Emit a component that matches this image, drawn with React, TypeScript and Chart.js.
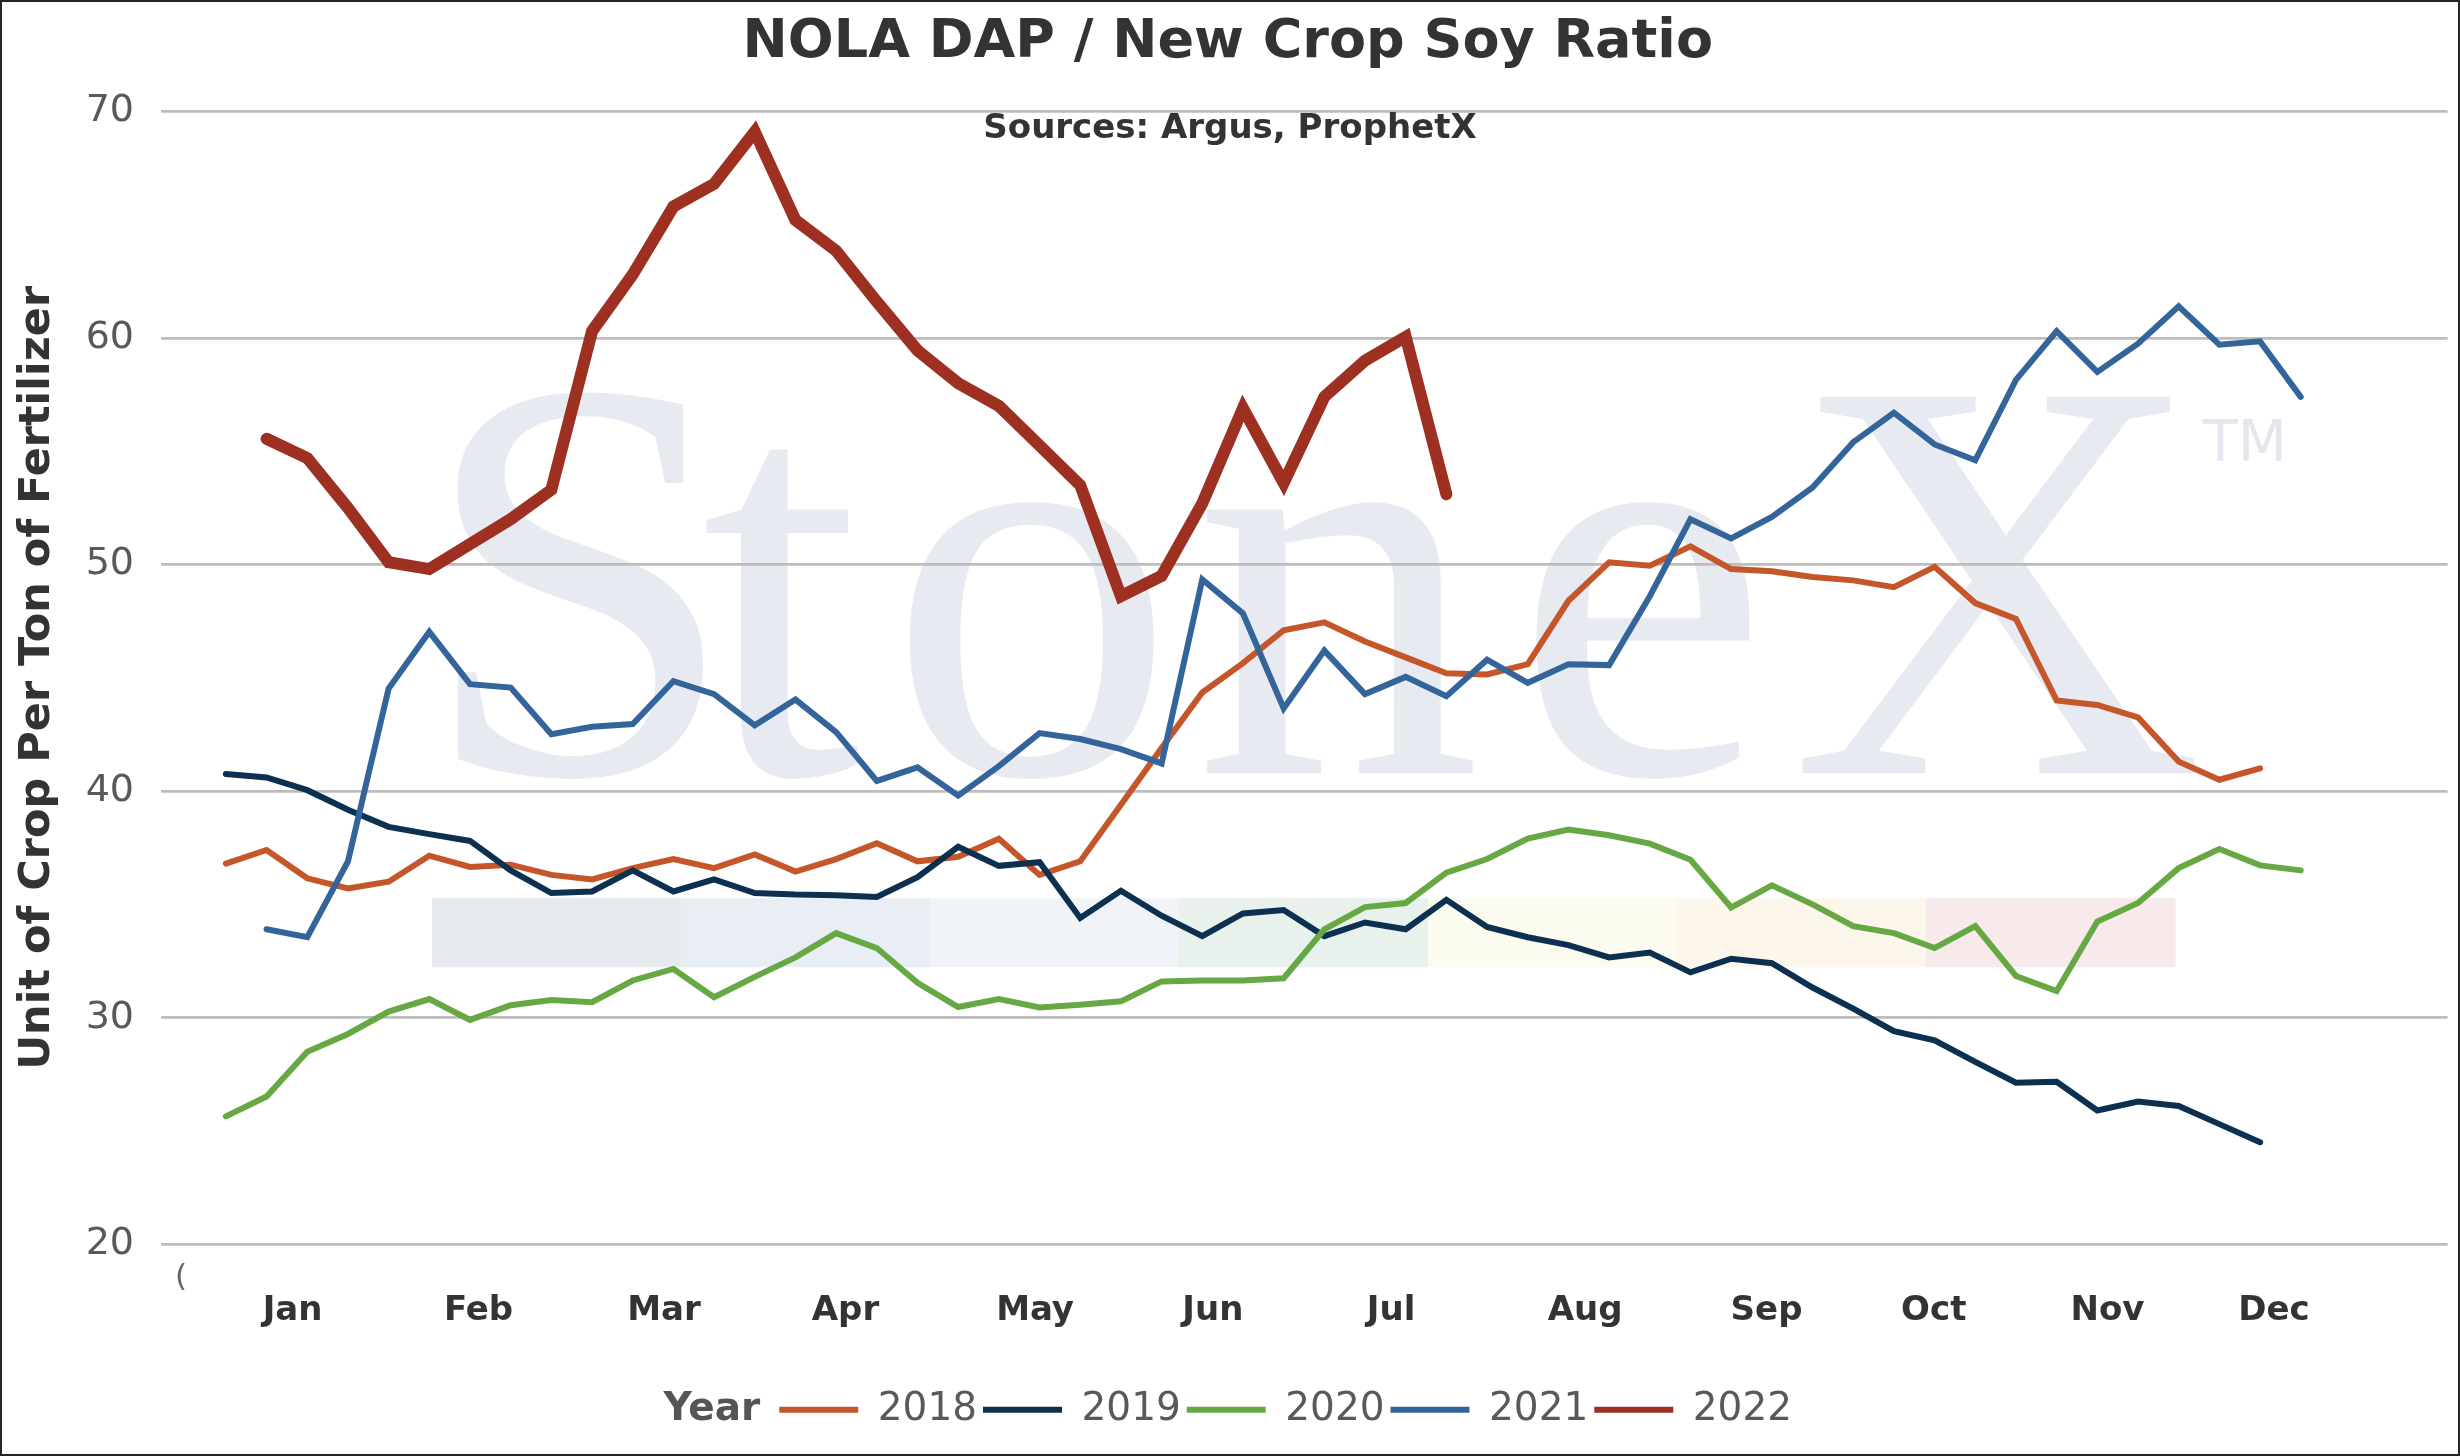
import React, { useEffect, useRef } from 'react';
import { Chart, registerables } from 'chart.js';

Chart.register(...registerables);

// ---------- data ----------
const monthLabels = ['Jan', 'Feb', 'Mar', 'Apr', 'May', 'Jun', 'Jul', 'Aug', 'Sep', 'Oct', 'Nov', 'Dec'];
const monthTickWeeks = [1.64, 6.21, 10.77, 15.23, 19.89, 24.26, 28.64, 33.41, 37.87, 41.98, 46.25, 50.34];
const yTickValues = [20, 30, 40, 50, 60, 70];

const seriesLabels = ['2018', '2019', '2020', '2021', '2022'];
const seriesColors = ['#c5562a', '#0b3050', '#66a843', '#33649a', '#9e3022'];
const seriesWidths = [6, 6, 6, 6, 12];
const seriesStartWeek = [0, 0, 0, 1, 1];

const ratio2018 = [
  36.8, 37.4, 36.15, 35.7, 36.0, 37.15, 36.65, 36.75, 36.3, 36.1,
  36.6, 37.0, 36.6, 37.2, 36.45, 37.0, 37.7, 36.9, 37.1, 37.9,
  36.3, 36.9, 39.4, 41.9, 44.35, 45.65, 47.1, 47.45, 46.6, 45.9,
  45.2, 45.15, 45.6, 48.4, 50.1, 49.95, 50.8, 49.8, 49.7, 49.45,
  49.3, 49.0, 49.9, 48.3, 47.6, 44.0, 43.8, 43.25, 41.3, 40.5, 41.0,
];
const ratio2019 = [
  40.75, 40.6, 40.04, 39.18, 38.42, 38.1, 37.8, 36.5, 35.5, 35.57,
  36.5, 35.57, 36.1, 35.5, 35.43, 35.4, 35.33, 36.2, 37.54, 36.7,
  36.86, 34.4, 35.6, 34.5, 33.6, 34.6, 34.75, 33.6, 34.2, 33.9,
  35.2, 34.0, 33.55, 33.2, 32.66, 32.87, 32.0, 32.6, 32.4, 31.33,
  30.4, 29.4, 29.0, 28.05, 27.13, 27.17, 25.9, 26.3, 26.1, 25.3, 24.5,
];
const ratio2020 = [
  25.64, 26.52, 28.5, 29.28, 30.27, 30.82, 29.9, 30.55, 30.78, 30.68,
  31.64, 32.15, 30.9, 31.8, 32.66, 33.73, 33.07, 31.54, 30.47, 30.82,
  30.45, 30.57, 30.72, 31.6, 31.64, 31.64, 31.74, 33.9, 34.88, 35.06,
  36.4, 37.0, 37.9, 38.3, 38.05, 37.68, 36.97, 34.86, 35.84, 35.0,
  34.04, 33.73, 33.07, 34.04, 31.84, 31.17, 34.24, 35.06, 36.6, 37.44, 36.72, 36.5,
];
const ratio2021 = [
  33.9, 33.55, 36.9, 44.53, 47.03, 44.72, 44.57, 42.51, 42.84, 42.96,
  44.85, 44.28, 42.9, 44.04, 42.6, 40.45, 41.05, 39.8, 41.1, 42.56,
  42.3, 41.85, 41.22, 49.34, 47.84, 43.65, 46.2, 44.28, 45.04, 44.19,
  45.8, 44.78, 45.6, 45.56, 48.6, 52.0, 51.15, 52.1, 53.4, 55.4,
  56.7, 55.3, 54.6, 58.15, 60.3, 58.5, 59.75, 61.4, 59.7, 59.85, 57.4,
];
const ratio2022 = [
  55.55, 54.7, 52.5, 50.1, 49.8, 50.9, 52.0, 53.3, 60.3, 62.8,
  65.8, 66.8, 69.1, 65.2, 63.85, 61.6, 59.45, 58.0, 57.0, 55.25,
  53.5, 48.6, 49.5, 52.7, 56.9, 53.6, 57.4, 59.0, 60.05, 53.1,
];
const seriesValues = [ratio2018, ratio2019, ratio2020, ratio2021, ratio2022];

// ---------- styling constants ----------
const FONT = '"DejaVu Sans", Verdana, sans-serif';
const LEGEND_FONT_SIZE = 39;
const LEGEND_COLOR = '#595959';
const YEAR_GAP = 19;
const watermarkBarColors = ['#e6e9ee', '#e9eef5', '#f0f4f9', '#e8f1eb', '#fbfbef', '#fdf6ea', '#f8e9ea'];
const watermarkLetters = ['S', 't', 'o', 'n', 'e', 'X'];
const watermarkLetterPos = [0.1128, 0.2361, 0.3179, 0.4517, 0.5917, 0.7123];

const toPoints = (vals: number[], start: number) => vals.map((v, i) => ({ x: start + i, y: v }));

const watermarkPlugin = {
  id: 'stonexWatermark',
  beforeDraw(chart: any) {
    const { ctx, chartArea: a } = chart;
    if (!a) return;
    const w = a.right - a.left;
    const h = a.bottom - a.top;
    ctx.save();
    const x0 = a.left + w * 0.1185;
    const segW = w * 0.1089;
    const y0 = a.top + h * 0.6946;
    const segH = h * 0.0609;
    watermarkBarColors.forEach((c, i) => {
      ctx.fillStyle = c;
      ctx.fillRect(x0 + i * segW, y0, segW + 0.6, segH);
    });
    ctx.fillStyle = '#e7eaf0';
    ctx.font = '575px "Liberation Serif", "DejaVu Serif", serif';
    ctx.textAlign = 'left';
    ctx.textBaseline = 'alphabetic';
    const base = a.top + h * 0.5843;
    watermarkLetters.forEach((ch, i) => {
      ctx.fillText(ch, a.left + w * watermarkLetterPos[i], base);
    });
    ctx.fillStyle = '#e3e6ec';
    ctx.font = `57px ${FONT}`;
    ctx.fillText('TM', a.left + w * 0.893, a.top + h * 0.309);
    ctx.restore();
  },
};

const decorPlugin = {
  id: 'decor',
  afterLayout(chart: any) {
    if (chart.legend) chart.legend._yearShifted = false;
  },
  beforeDraw(chart: any) {
    const lg = chart.legend;
    if (lg && lg.lineWidths && !lg._yearShifted) {
      const ctx = chart.ctx;
      ctx.save();
      ctx.font = `bold ${LEGEND_FONT_SIZE}px ${FONT}`;
      const w = ctx.measureText('Year').width;
      ctx.restore();
      lg.lineWidths[0] -= w + YEAR_GAP;
      lg._yearShifted = true;
    }
  },
  afterDraw(chart: any) {
    const { ctx, chartArea: a } = chart;
    ctx.save();
    // subtitle
    ctx.fillStyle = '#333333';
    ctx.font = `bold 34px ${FONT}`;
    ctx.textAlign = 'center';
    ctx.textBaseline = 'middle';
    ctx.fillText('Sources: Argus, ProphetX', chart.width / 2, a.top + 18);
    // stray clipped label at the axis corner
    ctx.fillStyle = '#666666';
    ctx.font = `31px ${FONT}`;
    ctx.fillText('(', a.left + 20, a.bottom + 34);
    // legend title "Year"
    const lg = chart.legend;
    if (lg && lg.lineWidths) {
      const pad = lg.options.labels.padding;
      const x0 = (lg.left + pad + lg.right - lg.lineWidths[0]) / 2;
      const y = lg.top + pad + LEGEND_FONT_SIZE / 2;
      ctx.fillStyle = '#555555';
      ctx.font = `bold ${LEGEND_FONT_SIZE}px ${FONT}`;
      ctx.textAlign = 'right';
      ctx.fillText('Year', x0 - YEAR_GAP, y);
    }
    ctx.restore();
  },
};

export default function App() {
  const canvasRef = useRef<HTMLCanvasElement | null>(null);

  useEffect(() => {
    document.body.style.margin = '0';
    const canvas = canvasRef.current;
    if (!canvas) return;
    Chart.defaults.font.family = FONT;

    const datasets = seriesLabels.map((label, i) => ({
      label,
      data: toPoints(seriesValues[i], seriesStartWeek[i]),
      borderColor: seriesColors[i],
      backgroundColor: seriesColors[i],
      borderWidth: seriesWidths[i],
      pointRadius: 0,
      pointHoverRadius: 0,
      tension: 0,
      fill: false,
      borderCapStyle: 'round' as const,
      borderJoinStyle: 'miter' as const,
      order: seriesLabels.length - i,
    }));

    const chart = new Chart(canvas, {
      type: 'line',
      data: { datasets },
      plugins: [watermarkPlugin, decorPlugin],
      options: {
        animation: false,
        responsive: false,
        maintainAspectRatio: false,
        events: [],
        layout: { padding: { top: 0, left: 6, right: 10.4, bottom: 14.8 } },
        plugins: {
          title: {
            display: true,
            text: 'NOLA DAP / New Crop Soy Ratio',
            color: '#333333',
            font: { family: FONT, size: 54, weight: 'bold', lineHeight: 1.2 },
            padding: { top: 9, bottom: 35.6 },
          },
          legend: {
            display: true,
            position: 'bottom',
            align: 'center',
            labels: {
              boxWidth: 79,
              boxHeight: 6,
              padding: 6,
              color: LEGEND_COLOR,
              font: { family: FONT, size: LEGEND_FONT_SIZE },
              generateLabels: (c: any) =>
                c.data.datasets.map((ds: any, i: number) => ({
                  text: ds.label,
                  fillStyle: ds.borderColor,
                  strokeStyle: ds.borderColor,
                  fontColor: LEGEND_COLOR,
                  lineWidth: 0,
                  hidden: false,
                  datasetIndex: i,
                })),
            },
          },
          tooltip: { enabled: false },
        },
        scales: {
          x: {
            type: 'linear',
            min: -1.595,
            max: 54.61,
            afterBuildTicks: (s: any) => {
              s.ticks = monthTickWeeks.map((v) => ({ value: v }));
            },
            afterFit: (s: any) => {
              s.height = 140;
            },
            ticks: {
              autoSkip: false,
              maxRotation: 0,
              minRotation: 0,
              color: '#333333',
              font: { family: FONT, size: 34, weight: 'bold' },
              padding: 46.5,
              callback: (_v: any, i: number) => monthLabels[i],
            },
            grid: { display: false, drawTicks: false },
            border: { display: false },
          },
          y: {
            type: 'linear',
            min: 20,
            max: 70,
            afterBuildTicks: (s: any) => {
              s.ticks = yTickValues.map((v) => ({ value: v }));
            },
            afterFit: (s: any) => {
              s.width = 153;
            },
            ticks: {
              color: '#595959',
              font: { family: FONT, size: 38 },
              padding: 27,
            },
            grid: { color: '#bdbdbd', lineWidth: 2.7, drawTicks: false },
            border: { display: false },
            title: {
              display: true,
              text: 'Unit of Crop Per Ton of Fertilizer',
              color: '#333333',
              font: { family: FONT, size: 43, weight: 'bold', lineHeight: 1.2 },
              padding: { top: 4, bottom: 4 },
            },
          },
        },
      } as any,
    });

    return () => chart.destroy();
  }, []);

  return (
    <div
      style={{
        position: 'absolute',
        left: 0,
        top: 0,
        width: 2460,
        height: 1456,
        boxSizing: 'border-box',
        border: '2px solid #262626',
        background: '#ffffff',
      }}
    >
      <canvas ref={canvasRef} width={2456} height={1452} style={{ display: 'block', width: 2456, height: 1452 }} />
    </div>
  );
}
